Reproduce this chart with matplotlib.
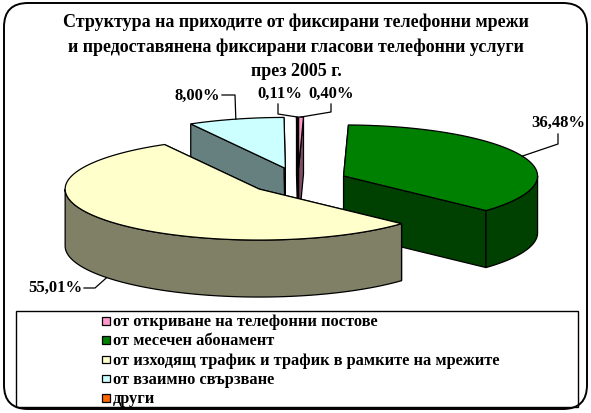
import numpy as np
import matplotlib
matplotlib.use("Agg")
import matplotlib.pyplot as plt
from matplotlib.patches import Polygon, Rectangle, FancyBboxPatch

# ---------------- data ----------------
categories = [
    "от откриване на телефонни постове",
    "от месечен абонамент",
    "от изходящ трафик и трафик в рамките на мрежите",
    "от взаимно свързване",
    "други",
]
values = [0.40, 36.48, 55.01, 8.00, 0.11]
value_labels = ["0,40%", "36,48%", "55,01%", "8,00%", "0,11%"]
top_colors = ["#FF99CC", "#008000", "#FFFFCC", "#CCFFFF", "#FF6600"]
title_lines = [
    "Структура на приходите от фиксирани телефонни мрежи",
    "и предоставянена фиксирани гласови телефонни услуги",
    "през 2005 г.",
]

# ---------------- geometry (pixel space) ----------------
W, H = 591, 414
C0 = (298.0, 182.0)     # pie centre
RX, RY = 194.0, 51.0    # ellipse radii
DEPTH = 57.0            # 3-D thickness
EXPL = 0.255            # explode fraction

FONT = "Liberation Serif"

fig = plt.figure(figsize=(W / 100, H / 100), dpi=100)
ax = fig.add_axes([0, 0, 1, 1])
ax.set_xlim(0, W)
ax.set_ylim(H, 0)
ax.axis("off")


def darker(c, f=0.5):
    r, g, b = matplotlib.colors.to_rgb(c)
    return (r * f, g * f, b * f)


def rim(cx, cy, th, dz=0.0):
    t = np.radians(th)
    return (cx + RX * np.sin(t), cy - RY * np.cos(t) + dz)


def arc(cx, cy, a0, a1, dz=0.0):
    n = max(2, int(abs(a1 - a0) / 2) + 2)
    ts = np.linspace(a0, a1, n)
    return [rim(cx, cy, t, dz) for t in ts]


total = sum(values)
angles = np.concatenate([[0], np.cumsum(values) / total * 360.0])

slices = []
for i, v in enumerate(values):
    a0, a1 = angles[i], angles[i + 1]
    mid = 0.5 * (a0 + a1)
    t = np.radians(mid)
    cx = C0[0] + EXPL * RX * np.sin(t)
    cy = C0[1] - EXPL * RY * np.cos(t)
    slices.append((i, a0, a1, mid, cx, cy))

EC = "black"
LW = 0.9
# back to front
for (i, a0, a1, mid, cx, cy) in sorted(slices, key=lambda s: s[5]):
    top = top_colors[i]
    side = darker(top)
    # radial faces
    for ang in (a0, a1):
        p = rim(cx, cy, ang)
        poly = [(cx, cy), p, (p[0], p[1] + DEPTH), (cx, cy + DEPTH)]
        ax.add_patch(Polygon(poly, closed=True, fc=side, ec=EC, lw=LW, zorder=2))
    # outer rim side (front half only)
    s0, s1 = max(a0, 90.0), min(a1, 270.0)
    if s1 > s0:
        up = arc(cx, cy, s0, s1)
        dn = arc(cx, cy, s0, s1, DEPTH)[::-1]
        ax.add_patch(Polygon(up + dn, closed=True, fc=side, ec=EC, lw=LW, zorder=2))
    # top face
    poly = [(cx, cy)] + arc(cx, cy, a0, a1)
    ax.add_patch(Polygon(poly, closed=True, fc=top, ec=EC, lw=LW, zorder=2))

# ---------------- data labels with leader lines ----------------
lab_pos = {0: (331.5, 94), 1: (558, 123), 2: (55, 288), 3: (197.5, 96), 4: (279.5, 94)}
lead_mid = {0: [(331, 105), (331, 113)], 1: [(558, 135), (558, 145)],
            2: [(84, 289), (95, 289)], 3: [(222, 96), (235, 96)],
            4: [(278, 105), (278, 115)]}
for (i, a0, a1, mid, cx, cy) in slices:
    t = np.radians(mid)
    ax_pt = rim(cx, cy, mid, DEPTH if np.cos(t) < 0 else 0.0)
    pts = lead_mid[i] + [ax_pt]
    ax.plot([p[0] for p in pts], [p[1] for p in pts], color="black", lw=0.9, zorder=3)
    ax.text(*lab_pos[i], value_labels[i], ha="center", va="center",
            family=FONT, fontweight="bold", fontsize=12, zorder=4)

# ---------------- title ----------------
for k, (line, y) in enumerate(zip(title_lines, [22, 47, 72])):
    ax.text(296, y, line, ha="center", va="center", family=FONT,
            fontweight="bold", fontsize=13)

# ---------------- legend ----------------
ax.add_patch(Rectangle((16, 312), 562, 96, fill=False, ec="black", lw=1.0, zorder=3))
for k, (cat, col) in enumerate(zip(categories, top_colors)):
    y = 322 + k * 19.3
    ax.add_patch(Rectangle((102, y - 4), 7.5, 7.5, fc=col, ec="black", lw=0.9, zorder=3))
    ax.text(113, y, cat, ha="left", va="center", family=FONT,
            fontweight="bold", fontsize=11.8, zorder=4)

# ---------------- outer rounded border ----------------
ax.add_patch(FancyBboxPatch((4, 4), 583, 406, boxstyle="round,pad=0,rounding_size=24",
                            fill=False, ec="black", lw=1.4, zorder=5))

fig.savefig("out.png", dpi=100)
